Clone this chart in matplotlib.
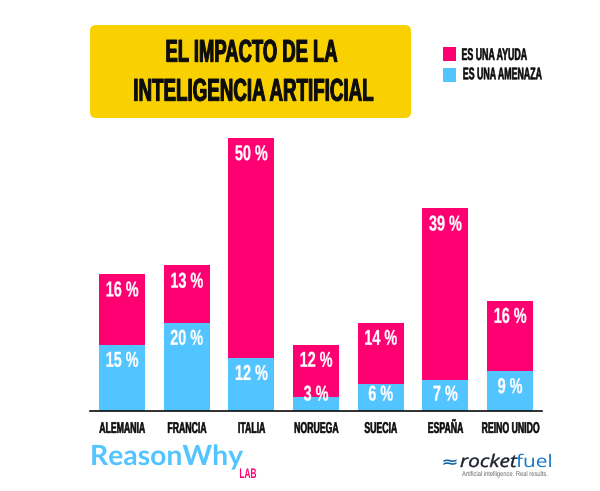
import numpy as np
import matplotlib
matplotlib.use('Agg')
import matplotlib.pyplot as plt
from matplotlib.patches import FancyBboxPatch, Rectangle
from matplotlib.patheffects import AbstractPathEffect
from matplotlib.transforms import Affine2D

paises = ['ALEMANIA', 'FRANCIA', 'ITALIA', 'NORUEGA', 'SUECIA', 'ESPAÑA', 'REINO UNIDO']
amenaza = [15, 20, 12, 3, 6, 7, 9]
ayuda = [16, 13, 50, 12, 14, 39, 16]

ROSA = '#ff0073'
AZUL = '#52c4ff'
AMARILLO = '#f9d100'
NEGRO = '#0c0c0c'
FUENTE = 'Liberation Sans'


# no condensed font installed, so squeeze the glyphs sideways when they are drawn
class Ancho(AbstractPathEffect):
    def __init__(self, factor, ancla='center', grosor=0.0):
        super().__init__()
        self.factor = factor
        self.ancla = ancla
        self.grosor = grosor

    def draw_path(self, renderer, gc, tpath, affine, rgbFace=None):
        caja = tpath.get_extents(affine)
        x0 = caja.x0 if self.ancla == 'left' else (caja.x0 + caja.x1) / 2
        nuevo = affine + Affine2D().translate(-x0, 0).scale(self.factor, 1).translate(x0, 0)
        gc0 = renderer.new_gc()
        gc0.copy_properties(gc)
        if self.grosor > 0:
            gc0.set_linewidth(self.grosor)
            gc0.set_foreground(rgbFace)
        renderer.draw_path(gc0, tpath, nuevo, rgbFace)
        gc0.restore()


W, H = 600, 491
fig = plt.figure(figsize=(W / 100, H / 100), dpi=100, facecolor='white')

# bars: axes placed in pixels
ax = fig.add_axes([90 / W, (H - 410.5) / H, 452 / W, 272.5 / H])
x = np.arange(len(paises))
ax.bar(x, amenaza, width=0.71, color=AZUL)
ax.bar(x, ayuda, width=0.71, bottom=amenaza, color=ROSA)
ax.set_xlim(-0.495, 6.495)
ax.set_ylim(0, 62)
ax.set_yticks([])
ax.set_xticks(x)
ax.set_xticklabels(paises, family=FUENTE, fontweight='bold', fontsize=11.2, color=NEGRO)
for t in ax.get_xticklabels():
    t.set_path_effects([Ancho(0.56, grosor=0.35)])
ax.tick_params(axis='x', length=0, pad=7.5)
for s in ['top', 'left', 'right']:
    ax.spines[s].set_visible(False)
ax.spines['bottom'].set_linewidth(1.2)
ax.spines['bottom'].set_color(NEGRO)
ax.patch.set_alpha(0)

for i in x:
    t1 = ax.text(i, max(amenaza[i] - 3.8, 3.5), f'{amenaza[i]} %', ha='center', va='center',
                 family=FUENTE, fontweight='bold', fontsize=15.5, color='white')
    tope = amenaza[i] + ayuda[i]
    t2 = ax.text(i, tope - 3.8, f'{ayuda[i]} %', ha='center', va='center',
                 family=FUENTE, fontweight='bold', fontsize=15.5, color='white')
    t1.set_path_effects([Ancho(0.67, grosor=0.2)])
    t2.set_path_effects([Ancho(0.67, grosor=0.2)])

# overlay in pixel coordinates for header and logos
ov = fig.add_axes([0, 0, 1, 1])
ov.set_xlim(0, W)
ov.set_ylim(H, 0)
ov.axis('off')
ov.patch.set_alpha(0)

ov.add_patch(FancyBboxPatch((94, 29), 313, 85, boxstyle='round,pad=4,rounding_size=6',
                            fc=AMARILLO, ec='none'))
ov.text(251, 61.7, 'EL IMPACTO DE LA', ha='center', va='baseline', family=FUENTE,
        fontweight='bold', fontsize=22.7, color=NEGRO, path_effects=[Ancho(0.585, grosor=0.7)])
ov.text(253, 100.7, 'INTELIGENCIA ARTIFICIAL', ha='center', va='baseline', family=FUENTE,
        fontweight='bold', fontsize=22.7, color=NEGRO, path_effects=[Ancho(0.595, grosor=0.7)])

ov.add_patch(Rectangle((443, 47), 13, 14, fc=ROSA, ec='none'))
ov.add_patch(Rectangle((443, 68), 13, 14, fc=AZUL, ec='none'))
ov.text(494, 60, 'ES UNA AYUDA', ha='center', va='baseline', family=FUENTE, fontweight='bold',
        fontsize=12.2, color=NEGRO, path_effects=[Ancho(0.52, grosor=0.35)])
ov.text(502, 79.3, 'ES UNA AMENAZA', ha='center', va='baseline', family=FUENTE, fontweight='bold',
        fontsize=12.2, color=NEGRO, path_effects=[Ancho(0.52, grosor=0.35)])

ov.text(90, 465, 'ReasonWhy', va='baseline', family='Lato', fontweight='bold',
        fontsize=20, color=AZUL, path_effects=[Ancho(1.02, 'left')])
ov.text(239, 478, 'LAB', va='baseline', family=FUENTE, fontweight='bold', fontsize=10, color=ROSA,
        path_effects=[Ancho(0.6, 'left')])

ov.text(442, 466.5, '≈', va='baseline', family='DejaVu Sans', fontweight='bold',
        fontsize=10, color='#0b5fa5', style='italic', path_effects=[Ancho(1.5, 'left')])
ov.text(460, 467, 'rocket', va='baseline', family='Open Sans', style='italic',
        fontsize=12.5, color='#1c2430', path_effects=[Ancho(1.2, 'left', grosor=0.3)])
ov.text(516, 467, 'fuel', va='baseline', family='Open Sans',
        fontsize=12.5, color='#1577c9', path_effects=[Ancho(1.2, 'left')])
ov.text(462, 476, 'Artificial intelligence. Real results.', va='baseline',
        family=FUENTE, fontsize=5, color='#666666', path_effects=[Ancho(0.83, 'left')])

fig.savefig('out.png', dpi=100, facecolor='white')
